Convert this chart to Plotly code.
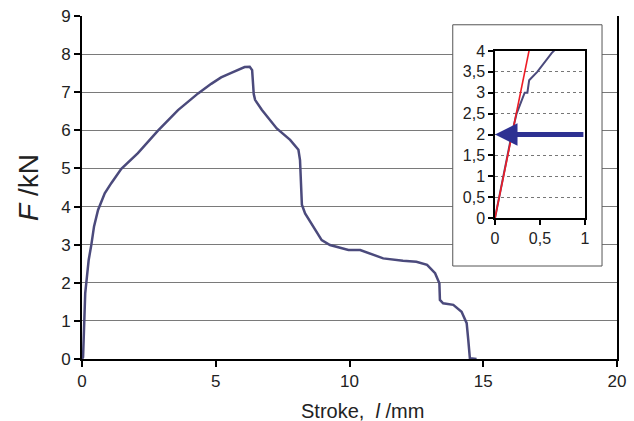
import plotly.graph_objects as go

# Main curve: stroke (mm) vs force (kN)
stroke = [0, 0.04, 0.12, 0.25, 0.35, 0.45, 0.6, 0.85, 1.1, 1.47, 2.09, 2.84, 3.59, 4.34, 4.83, 5.2, 5.58,
          5.85, 6.08, 6.27, 6.36, 6.42, 6.47, 6.72, 7.28, 7.78, 8.09, 8.15, 8.18, 8.22, 8.34, 8.65, 8.96,
          9.27, 9.96, 10.4, 11.26, 12.0, 12.5, 12.9, 13.2, 13.36, 13.38, 13.5, 13.88, 14.19, 14.38,
          14.44, 14.5, 14.75]
force = [0, 0.05, 1.72, 2.6, 3.0, 3.48, 3.91, 4.35, 4.62, 4.99, 5.4, 5.99, 6.53, 6.97, 7.22, 7.39, 7.51,
         7.6, 7.66, 7.67, 7.58, 6.95, 6.8, 6.54, 6.05, 5.75, 5.49, 5.22, 4.5, 4.05, 3.82, 3.47, 3.12,
         2.99, 2.86, 2.86, 2.64, 2.58, 2.55, 2.47, 2.25, 1.99, 1.55, 1.46, 1.42, 1.24, 0.94,
         0.5, 0.02, 0.0]

# Inset: initial part of the curve
inset_x = [0, 0.09, 0.185, 0.24, 0.30, 0.33, 0.36, 0.38, 0.47, 0.56, 0.63, 0.70]
inset_y = [0, 1.0, 2.0, 2.5, 2.85, 3.0, 3.0, 3.3, 3.5, 3.75, 3.95, 4.1]
# Red tangent line
tangent_x = [0, 0.38]
tangent_y = [0, 4.02]
# Arrow level
arrow_level = 2

main_xticks = [0, 5, 10, 15, 20]
main_yticks = [0, 1, 2, 3, 4, 5, 6, 7, 8, 9]
inset_xticks = [0, 0.5, 1]
inset_xtext = ["0", "0,5", "1"]
inset_yticks = [0, 0.5, 1, 1.5, 2, 2.5, 3, 3.5, 4]
inset_ytext = ["0", "0,5", "1", "1,5", "2", "2,5", "3", "3,5", "4"]

FONT = "Liberation Sans, Arial, sans-serif"
curve_color = "#4b4a7c"

fig = go.Figure()
fig.add_trace(go.Scatter(x=stroke, y=force, mode="lines",
                         line=dict(color=curve_color, width=2.5),
                         xaxis="x", yaxis="y", showlegend=False))
fig.add_trace(go.Scatter(x=inset_x, y=inset_y, mode="lines",
                         line=dict(color=curve_color, width=2),
                         xaxis="x2", yaxis="y2", showlegend=False))
fig.add_trace(go.Scatter(x=tangent_x, y=tangent_y, mode="lines",
                         line=dict(color="#ee1c25", width=1.6),
                         xaxis="x2", yaxis="y2", showlegend=False))

# White inset frame covering main gridlines (between grid and traces of main subplot)
fig.add_shape(type="rect", xref="x", yref="y",
              x0=13.86, x1=19.44, y0=2.44, y1=8.77,
              fillcolor="white", line=dict(color="#555555", width=1),
              layer="between")

fig.add_annotation(x=0, y=arrow_level, ax=1, ay=arrow_level,
                   xref="x2", yref="y2", axref="x2", ayref="y2",
                   showarrow=True, arrowhead=2, arrowsize=0.9, arrowwidth=5,
                   arrowcolor="#2e3192", standoff=0, text="")

# X-axis title as annotation (slightly right of centre as in the reference)
fig.add_annotation(x=0.524, y=-0.152, xref="paper", yref="paper",
                   text="Stroke,  <i>l</i> /mm", showarrow=False,
                   xanchor="center", yanchor="middle", font=dict(size=20))

fig.update_layout(
    width=634, height=421,
    margin=dict(l=82, r=17, t=16, b=62, autoexpand=False),
    plot_bgcolor="white", paper_bgcolor="white",
    font=dict(family=FONT, size=17, color="#222222"),
    xaxis=dict(domain=[0, 1], range=[0, 20], tickvals=main_xticks,
               showgrid=False, zeroline=False, showline=True, linecolor="black",
               linewidth=2, ticks="outside", ticklen=6, tickwidth=2, tickcolor="black"),
    yaxis=dict(domain=[0, 1], range=[0, 9], tickvals=main_yticks,
               showgrid=True, gridcolor="#7a7a7a", gridwidth=1, zeroline=False,
               showline=True, linecolor="black", linewidth=2, mirror=True,
               ticks="outside", ticklen=6, tickwidth=2, tickcolor="black",
               title=dict(text="<i>F</i> /kN", font=dict(size=28), standoff=14)),
    xaxis2=dict(domain=[0.772, 0.940], anchor="y2", range=[0, 1],
                tickvals=inset_xticks, ticktext=inset_xtext,
                showgrid=False, zeroline=False, showline=True, mirror=True,
                linecolor="black", linewidth=1.5, ticks="outside", ticklen=5,
                tickwidth=1.5, tickcolor="black", tickfont=dict(size=16)),
    yaxis2=dict(domain=[0.411, 0.898], anchor="x2", range=[0, 4],
                tickvals=inset_yticks, ticktext=inset_ytext,
                showgrid=True, gridcolor="#777777", griddash="dot", gridwidth=1,
                zeroline=False, showline=True, mirror=True,
                linecolor="black", linewidth=1.5, ticks="outside", ticklen=5,
                tickwidth=1.5, tickcolor="black", tickfont=dict(size=16)),
)

fig.write_html("out.html", config={"displayModeBar": False},
               post_script="document.body.style.margin='0px';")
